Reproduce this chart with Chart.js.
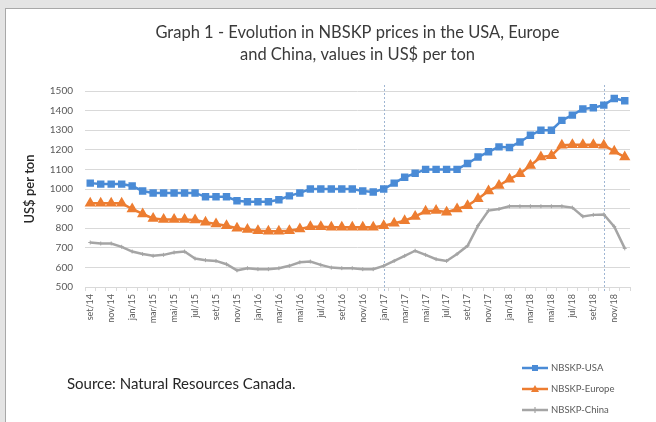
<!DOCTYPE html>
<html>
<head>
<meta charset="utf-8">
<script src="https://cdn.jsdelivr.net/npm/chart.js@4.4.1/dist/chart.umd.min.js"></script>
<style>
  html, body { margin: 0; padding: 0; }
  body { width: 656px; height: 422px; background: #e4e4e4; overflow: hidden; position: relative; }
  #panel { position: absolute; left: 5px; top: 8px; width: 650px; height: 414px; background: #fff;
           border-left: 1px solid #a8a8a8; border-top: 1px solid #a8a8a8; }
  #chart { display: block; }
</style>
</head>
<body>
<div id="panel"><canvas id="chart" width="650" height="414"></canvas></div>
<script>
const months = [
  'set/14', 'out/14', 'nov/14', 'dez/14',
  'jan/15', 'fev/15', 'mar/15', 'abr/15', 'mai/15', 'jun/15', 'jul/15', 'ago/15', 'set/15', 'out/15', 'nov/15', 'dez/15',
  'jan/16', 'fev/16', 'mar/16', 'abr/16', 'mai/16', 'jun/16', 'jul/16', 'ago/16', 'set/16', 'out/16', 'nov/16', 'dez/16',
  'jan/17', 'fev/17', 'mar/17', 'abr/17', 'mai/17', 'jun/17', 'jul/17', 'ago/17', 'set/17', 'out/17', 'nov/17', 'dez/17',
  'jan/18', 'fev/18', 'mar/18', 'abr/18', 'mai/18', 'jun/18', 'jul/18', 'ago/18', 'set/18', 'out/18', 'nov/18', 'dez/18'
];

const usa = [1030, 1025, 1025, 1025, 1015, 990, 980, 980, 980, 980, 980, 960, 960, 960, 940, 935,
  935, 935, 945, 965, 980, 1000, 1000, 1000, 1000, 1000, 990, 985,
  1000, 1030, 1060, 1080, 1100, 1100, 1100, 1100, 1130, 1163, 1190, 1215,
  1212, 1240, 1274, 1300, 1300, 1350, 1377, 1408, 1415, 1428, 1462, 1450];

const europe = [927, 927, 927, 927, 898, 873, 850, 845, 845, 845, 842, 830, 822, 813, 800, 793,
  787, 784, 784, 787, 796, 808, 808, 805, 805, 805, 805, 805,
  813, 825, 838, 860, 886, 890, 882, 898, 915, 950, 990, 1018,
  1050, 1078, 1120, 1163, 1170, 1223, 1226, 1226, 1226, 1223, 1192, 1163];

const china = [727, 722, 722, 705, 681, 668, 659, 664, 676, 681, 645, 637, 633, 616, 585, 596,
  591, 591, 596, 608, 626, 630, 613, 599, 596, 596, 591, 591,
  608, 633, 659, 685, 664, 642, 633, 668, 710, 813, 890, 898,
  912, 912, 912, 912, 912, 912, 905, 860, 868, 870, 808, 697];

const yTicks = [500, 1500, 100]; // min, max, step
const markedMonths = ['jan/17', 'out/18'];

const titleLines = ['Graph 1 - Evolution in NBSKP prices in the USA, Europe', 'and China, values in US$ per ton'];
const sourceText = 'Source: Natural Resources Canada.';

const FONT = 'Lato, "Open Sans", sans-serif';

// title, source note, dotted markers and the legend under the plot
const extras = {
  id: 'extras',
  beforeDatasetsDraw(chart) {
    const { ctx, chartArea, scales } = chart;
    ctx.save();
    ctx.strokeStyle = '#9fb6d3';
    ctx.lineWidth = 1;
    ctx.setLineDash([2, 2]);
    markedMonths.forEach(m => {
      const x = Math.round(scales.x.getPixelForValue(months.indexOf(m))) + 0.5;
      ctx.beginPath();
      ctx.moveTo(x, chartArea.top - 6);
      ctx.lineTo(x, chartArea.bottom + 6);
      ctx.stroke();
    });
    ctx.restore();
  },
  afterDraw(chart) {
    const { ctx, chartArea } = chart;
    ctx.save();
    const cx = (chartArea.left + chartArea.right) / 2;
    ctx.fillStyle = '#3a3a3a';
    ctx.font = '16.5px ' + FONT;
    ctx.textAlign = 'center';
    ctx.textBaseline = 'middle';
    titleLines.forEach((t, i) => ctx.fillText(t, cx, 24 + i * 22));

    ctx.textAlign = 'left';
    ctx.fillStyle = '#262626';
    ctx.font = '15px ' + FONT;
    ctx.fillText(sourceText, 61, 375);

    // legend
    ctx.font = '9.5px ' + FONT;
    chart.data.datasets.forEach((ds, i) => {
      const y = 359 + i * 21;
      const x0 = 516;
      ctx.strokeStyle = ds.borderColor;
      ctx.fillStyle = ds.borderColor;
      ctx.lineWidth = 2.5;
      ctx.beginPath();
      ctx.moveTo(x0, y);
      ctx.lineTo(x0 + 26, y);
      ctx.stroke();
      const mx = x0 + 13;
      if (ds.pointStyle === 'rect') {
        ctx.fillRect(mx - 3, y - 3, 6, 6);
      } else if (ds.pointStyle === 'triangle') {
        ctx.beginPath();
        ctx.moveTo(mx, y - 4);
        ctx.lineTo(mx + 4, y + 3);
        ctx.lineTo(mx - 4, y + 3);
        ctx.closePath();
        ctx.fill();
      } else {
        ctx.lineWidth = 1.2;
        ctx.beginPath();
        ctx.moveTo(mx, y - 3);
        ctx.lineTo(mx, y + 3);
        ctx.stroke();
      }
      ctx.fillStyle = '#595959';
      ctx.fillText(ds.label, x0 + 29, y);
    });
    ctx.restore();
  }
};

new Chart(document.getElementById('chart'), {
  type: 'line',
  data: {
    labels: months,
    datasets: [
      {
        label: 'NBSKP-USA',
        data: usa,
        borderColor: '#4a8bd6',
        backgroundColor: '#4a8bd6',
        borderWidth: 2.5,
        pointStyle: 'rect',
        pointRadius: 3.5,
        tension: 0
      },
      {
        label: 'NBSKP-Europe',
        data: europe,
        borderColor: '#ed7d31',
        backgroundColor: '#ed7d31',
        borderWidth: 2.5,
        pointStyle: 'triangle',
        pointRadius: 4,
        tension: 0
      },
      {
        label: 'NBSKP-China',
        data: china,
        borderColor: '#a5a5a5',
        backgroundColor: '#a5a5a5',
        borderWidth: 2.5,
        pointStyle: 'cross',
        pointRadius: 2,
        pointBorderWidth: 1,
        tension: 0
      }
    ]
  },
  options: {
    responsive: false,
    animation: false,
    layout: { padding: { top: 82, right: 26, left: 0, bottom: 0 } },
    plugins: {
      legend: { display: false },
      title: { display: false },
      tooltip: { enabled: false }
    },
    scales: {
      x: {
        offset: true,
        grid: { drawOnChartArea: false, color: '#d9d9d9', tickLength: 4, offset: true },
        border: { color: '#d9d9d9' },
        ticks: {
          autoSkip: false,
          minRotation: 90,
          maxRotation: 90,
          padding: 3,
          color: '#595959',
          font: { family: FONT, size: 9 },
          callback: (v, i) => (i % 2 === 0 ? months[i] : '')
        },
        afterFit(scale) { scale.height = 136; }
      },
      y: {
        min: yTicks[0],
        max: yTicks[1],
        ticks: {
          stepSize: yTicks[2],
          padding: 12,
          color: '#595959',
          font: { family: FONT, size: 10 },
          callback: v => String(v)
        },
        grid: { color: '#d9d9d9', drawTicks: false },
        border: { display: false },
        title: {
          display: true,
          text: 'US$ per ton',
          color: '#262626',
          padding: { top: 16, bottom: 0 },
          font: { family: FONT, size: 13, weight: '600' }
        },
        afterFit(scale) { scale.width = 79; }
      }
    }
  },
  plugins: [extras]
});
</script>
</body>
</html>
